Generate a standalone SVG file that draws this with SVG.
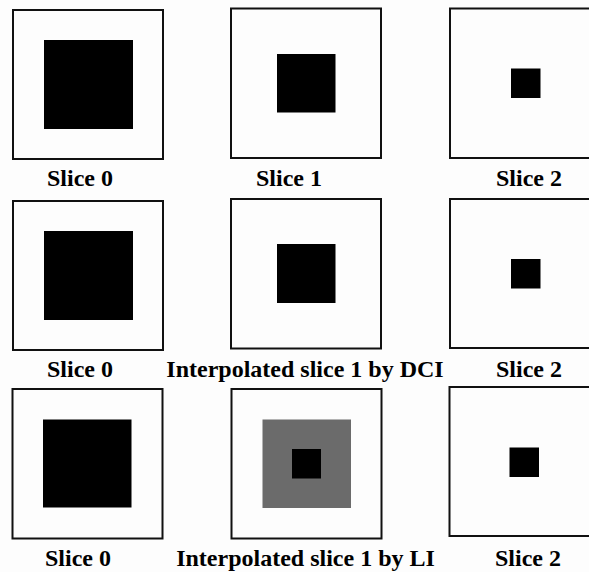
<svg xmlns="http://www.w3.org/2000/svg" width="589" height="572" viewBox="0 0 589 572">
<style>
.frame{fill:#fdfdfd;stroke:#111;stroke-width:2}
.blk{fill:#000}
.gry{fill:#6b6b6b}
.lbl{font-family:"Liberation Serif","Times New Roman",serif;font-weight:bold;font-size:24px;fill:#000;text-anchor:middle}
</style>
<rect width="589" height="572" fill="#fdfdfd"/>
<g id="r1c1"><rect class="frame" x="13" y="10" width="150" height="149"/><rect class="blk" x="44" y="40" width="89" height="89"/><text class="lbl" x="80" y="186">Slice 0</text></g>
<g id="r1c2"><rect class="frame" x="231" y="8.5" width="150" height="149.5"/><rect class="blk" x="277" y="54" width="58.5" height="58.5"/><text class="lbl" x="289" y="186">Slice 1</text></g>
<g id="r1c3"><rect class="frame" x="450" y="8.5" width="160" height="149.5"/><rect class="blk" x="511" y="68.5" width="29.5" height="29.5"/><text class="lbl" x="529" y="186">Slice 2</text></g>
<g id="r2c1"><rect class="frame" x="13" y="201" width="150" height="149"/><rect class="blk" x="44" y="231" width="89" height="89"/><text class="lbl" x="80" y="377">Slice 0</text></g>
<g id="r2c2"><rect class="frame" x="231" y="199" width="150" height="149.5"/><rect class="blk" x="277" y="244" width="58.5" height="59"/><text class="lbl" x="305" y="377">Interpolated slice 1 by DCI</text></g>
<g id="r2c3"><rect class="frame" x="450" y="199" width="160" height="149"/><rect class="blk" x="511" y="259" width="29.5" height="29.5"/><text class="lbl" x="529" y="377">Slice 2</text></g>
<g id="r3c1"><rect class="frame" x="12.5" y="389" width="150" height="149.5"/><rect class="blk" x="43" y="419.5" width="88.5" height="88"/><text class="lbl" x="78" y="566">Slice 0</text></g>
<g id="r3c2"><rect class="frame" x="231.5" y="389" width="150" height="149.5"/><rect class="gry" x="262.5" y="419.5" width="88.5" height="88.5"/><rect class="blk" x="292" y="449" width="29" height="29.5"/><text class="lbl" x="305.5" y="566">Interpolated slice 1 by LI</text></g>
<g id="r3c3"><rect class="frame" x="449.5" y="387" width="160" height="149"/><rect class="blk" x="509.5" y="447.5" width="29.5" height="29.5"/><text class="lbl" x="528" y="566">Slice 2</text></g>
<g id="connectors"/>
</svg>
